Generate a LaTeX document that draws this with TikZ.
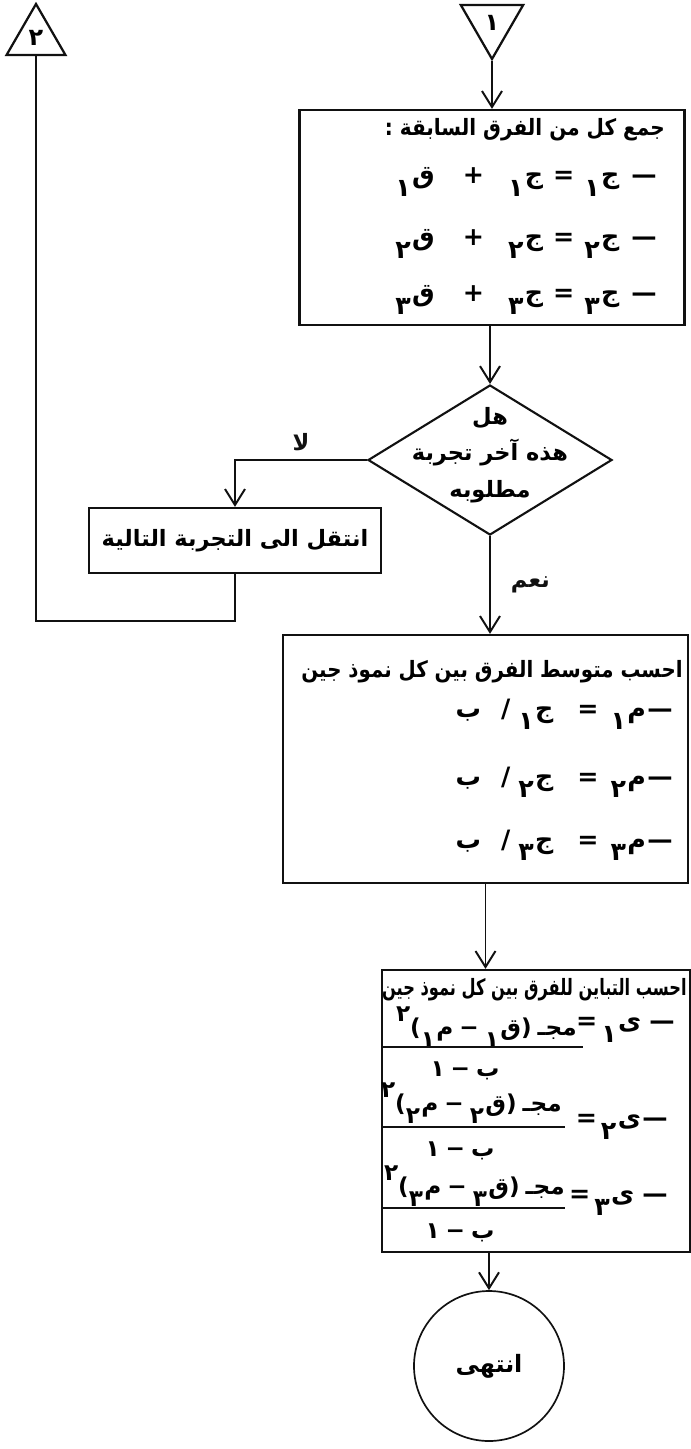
\documentclass[tikz,border=0pt]{standalone}
\usepackage{fontspec}
\usepackage{graphicx}
\usepackage{tikz}
\usetikzlibrary{arrows.meta, positioning, shapes.geometric, calc}
\newfontfamily\arabicfont[Script=Arabic]{DejaVu Sans}
\newfontfamily\latinfont{DejaVu Sans}
\TeXXeTstate=1
\definecolor{encre}{HTML}{111111}
% texte arabe de droite a gauche
\newcommand{\arab}[1]{\beginR #1\endR}
% lettre avec indice (indice en bas a gauche)
\newcommand{\harf}[2]{\raisebox{-0.9ex}{#2}\kern1pt#1}
\newcommand{\puiss}[1]{\raisebox{1.1ex}{#1}}
\newcommand{\parouv}{{\latinfont\bfseries(}}
\newcommand{\parferm}{{\latinfont\bfseries)}}
\tikzset{
  bloc/.style={rectangle, draw=encre, line width=1.6pt, inner sep=0pt},
  losange/.style={diamond, draw=encre, line width=1.5pt, inner sep=0pt,
    aspect=1.63, minimum width=61mm, minimum height=37.5mm},
  renvoi/.style={regular polygon, regular polygon sides=3, draw=encre,
    line width=1.6pt, inner sep=0pt, font=\arabicfont\bfseries\fontsize{17}{18}\selectfont},
  terminal/.style={circle, draw=encre, line width=1.2pt, minimum size=37.5mm,
    inner sep=0pt, font=\arabicfont\bfseries\fontsize{17}{20}\selectfont},
  texte/.style={font=\arabicfont\bfseries\fontsize{16}{20}\selectfont, inner sep=0pt},
  formule/.style={font=\arabicfont\bfseries\fontsize{18}{20}\selectfont, inner sep=0pt},
  fraction/.style={font=\arabicfont\bfseries\fontsize{16.5}{20}\selectfont, inner sep=0pt},
  etiquette/.style={font=\arabicfont\bfseries\fontsize{16}{18}\selectfont, inner sep=0pt},
  fleche/.style={-{Straight Barb[length=4mm, width=5mm]}, line width=1.4pt, color=encre},
  lien/.style={line width=1.4pt, color=encre}
}
\begin{document}
\begin{tikzpicture}[x=0.25mm, y=-0.25mm]
  \useasboundingbox (0,0) rectangle (691,1449);
  \node[renvoi, minimum size=18mm, shape border rotate=180] (renvoiA) at (492,23) {١};
  \node[renvoi, minimum size=17mm] (renvoiB) at (36,38) {٢};

  % cumul des differences
  \node[bloc, minimum width=96.25mm, minimum height=53.75mm] (cumul) at (492,217.5) {};
  \node[texte, anchor=east] (cumulT) at (665,130) {\scalebox{0.89}[1]{\arab{جمع كل من الفرق السابقة :}}};
  \node[formule, anchor=east] (cumulA) at (657,182) {\harf{ق}{١}\hspace{7mm}+\hspace{6mm}\harf{ج}{١}\hspace{2.5mm}=\hspace{2.5mm}\harf{ج}{١}\hspace{3mm}—};
  \node[formule, anchor=east] (cumulB) at (657,244) {\harf{ق}{٢}\hspace{7mm}+\hspace{6mm}\harf{ج}{٢}\hspace{2.5mm}=\hspace{2.5mm}\harf{ج}{٢}\hspace{3mm}—};
  \node[formule, anchor=east] (cumulC) at (657,300) {\harf{ق}{٣}\hspace{7mm}+\hspace{6mm}\harf{ج}{٣}\hspace{2.5mm}=\hspace{2.5mm}\harf{ج}{٣}\hspace{3mm}—};

  \node[losange] (test) at (490,460) {};
  \node[texte, align=center, font=\arabicfont\bfseries\fontsize{16}{26}\selectfont] (testT) at (490,455)
    {\arab{هل}\\\arab{هذه آخر تجربة}\\\arab{مطلوبه}};

  \node[bloc, minimum width=73mm, minimum height=16.25mm, font=\arabicfont\bfseries\fontsize{16}{20}\selectfont]
    (suivant) at (235,540.5) {\arab{انتقل الى التجربة التالية}};

  % moyenne des differences
  \node[bloc, minimum width=101.25mm, minimum height=62mm] (moyenne) at (485.5,759) {};
  \node[texte, anchor=east] (moyenneT) at (683,672) {\scalebox{0.88}[1]{\arab{احسب متوسط الفرق بين كل نموذ جين}}};
  \node[formule, anchor=east] (moyenneA) at (673,714) {ب\hspace{5mm}/\hspace{2mm}\harf{ج}{١}\hspace{6mm}=\hspace{3mm}\harf{م}{١}\kern1pt—};
  \node[formule, anchor=east] (moyenneB) at (673,782) {ب\hspace{5mm}/\hspace{2mm}\harf{ج}{٢}\hspace{6mm}=\hspace{3mm}\harf{م}{٢}\kern1pt—};
  \node[formule, anchor=east] (moyenneC) at (673,845) {ب\hspace{5mm}/\hspace{2mm}\harf{ج}{٣}\hspace{6mm}=\hspace{3mm}\harf{م}{٣}\kern1pt—};

  % variance des differences
  \node[bloc, minimum width=77mm, minimum height=70.5mm] (variance) at (536,1111) {};
  \node[texte, anchor=east] (varianceT) at (687,990) {\scalebox{0.72}[1]{\arab{احسب التباين للفرق بين كل نموذ جين}}};

  \node[formule, anchor=east] (varA) at (675,1030) {=\hspace{1mm}\harf{ى}{١}\hspace{2mm}—};
  \node[fraction, anchor=east] (varAn) at (577,1027) {\puiss{٢}\parouv\harf{م}{١}\hspace{1.5mm}−\hspace{1.5mm}\harf{ق}{١}\parferm\hspace{1.5mm}مجـ};
  \draw[lien] (383,1047) -- (583,1047);
  \node[fraction] (varAd) at (465,1071) {١\hspace{1.5mm}−\hspace{1.5mm}ب};

  \node[formule, anchor=east] (varB) at (668,1127) {=\hspace{1mm}\harf{ى}{٢}\kern1pt—};
  \node[fraction, anchor=east] (varBn) at (562,1103) {\puiss{٢}\parouv\harf{م}{٢}\hspace{1.5mm}−\hspace{1.5mm}\harf{ق}{٢}\parferm\hspace{1.5mm}مجـ};
  \draw[lien] (383,1127) -- (565,1127);
  \node[fraction] (varBd) at (460,1151) {١\hspace{1.5mm}−\hspace{1.5mm}ب};

  \node[formule, anchor=east] (varC) at (668,1203) {=\hspace{1mm}\harf{ى}{٣}\hspace{2mm}—};
  \node[fraction, anchor=east] (varCn) at (565,1186) {\puiss{٢}\parouv\harf{م}{٣}\hspace{1.5mm}−\hspace{1.5mm}\harf{ق}{٣}\parferm\hspace{1.5mm}مجـ};
  \draw[lien] (383,1208) -- (565,1208);
  \node[fraction] (varCd) at (460,1233) {١\hspace{1.5mm}−\hspace{1.5mm}ب};

  \node[terminal] (fin) at (489,1366) {\arab{انتهى}};

  \draw[fleche] (renvoiA.corner 1) -- (renvoiA.corner 1 |- cumul.north);
  \draw[fleche] (cumul.south -| test.north) -- (test.north);
  \draw[fleche] (test.west) -| node[etiquette, above=2mm, pos=0.25]{\arab{لا}} (suivant.north);
  \draw[fleche] (test.south) -- node[etiquette, right=5mm]{\arab{نعم}} (test.south |- moyenne.north);
  \draw[lien] (suivant.south) -- ++(0,47) -| (renvoiB.side 2);
  \draw[fleche] (moyenne.south) -- (moyenne.south |- variance.north);
  \draw[fleche] (fin.north |- variance.south) -- (fin.north);
\end{tikzpicture}
\end{document}
